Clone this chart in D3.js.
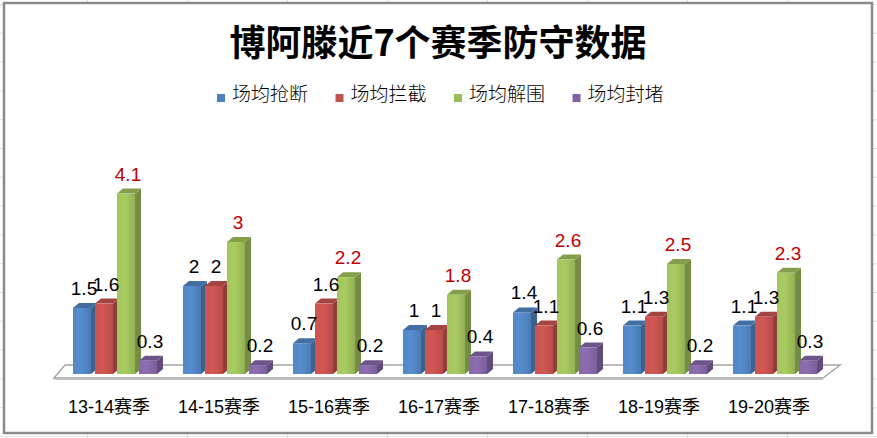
<!DOCTYPE html>
<html>
<head>
<meta charset="utf-8">
<script src="https://cdn.jsdelivr.net/npm/d3@7"></script>
<style>
body { margin: 0; background: #fff; }
text { font-family: "Liberation Sans", "Noto Sans CJK SC", sans-serif; }
</style>
</head>
<body>
<svg id="chart" width="877" height="438"></svg>
<script>
/* globals d3 */

// chart data
var title = "博阿滕近7个赛季防守数据";
var seasons = ["13-14赛季", "14-15赛季", "15-16赛季", "16-17赛季", "17-18赛季", "18-19赛季", "19-20赛季"];
var seriesNames = ["场均抢断", "场均拦截", "场均解围", "场均封堵"];
var steals = [1.5, 2, 0.7, 1, 1.4, 1.1, 1.1];
var interceptions = [1.6, 2, 1.6, 1, 1.1, 1.3, 1.3];
var clearances = [4.1, 3, 2.2, 1.8, 2.6, 2.5, 2.3];
var blocks = [0.3, 0.2, 0.2, 0.4, 0.6, 0.2, 0.3];

var seriesValues = [steals, interceptions, clearances, blocks];
var seriesColors = ["#4f81bd", "#c0504d", "#9bbb59", "#8064a2"];
var labelColors = ["#000", "#000", "#c00000", "#000"];

var svg = d3.select("#chart");
var W = 877, H = 438;

// faint spreadsheet cells behind the chart
var grid = svg.append("g").attr("stroke", "#e0e0e0").attr("stroke-width", 1);
grid.selectAll(".row")
    .data(d3.range(4.5, H, 28.8))
    .enter().append("line")
    .attr("x1", 0).attr("x2", W)
    .attr("y1", function(d){return d;}).attr("y2", function(d){return d;});
grid.selectAll(".col")
    .data(d3.range(87.5, W, 100))
    .enter().append("line")
    .attr("y1", 0).attr("y2", H)
    .attr("x1", function(d){return d;}).attr("x2", function(d){return d;});

// chart frame
svg.append("rect")
    .attr("x", 4).attr("y", 3)
    .attr("width", 868).attr("height", 430)
    .attr("fill", "#fff")
    .attr("stroke", "#8a8a8a")
    .attr("stroke-width", 2.5);

// title
svg.append("text")
    .attr("x", 438).attr("y", 56)
    .attr("text-anchor", "middle")
    .style("font-family", "'Noto Sans CJK SC', sans-serif")
    .style("font-size", "36px")
    .style("font-weight", "bold")
    .text(title);

// legend
var legendX = d3.scaleLinear().domain([0, 1]).range([217, 335.5]);
var legend = svg.append("g").selectAll("g")
    .data(seriesNames)
    .enter().append("g")
    .attr("transform", function(d, i){return "translate(" + legendX(i) + ",94)";});
legend.append("rect")
    .attr("width", 8).attr("height", 8)
    .attr("fill", function(d, i){return seriesColors[i];});
legend.append("text")
    .attr("x", 15).attr("y", 7)
    .style("font-size", "19px")
    .style("font-family", "'Noto Sans CJK SC', sans-serif")
    .style("font-weight", 300)
    .text(function(d){return d;});

// scales
var baseY = 374;
var x = d3.scaleBand().domain(seasons).range([60, 830]).paddingInner(0.236).paddingOuter(0.118);
var xs = d3.scaleBand().domain(d3.range(seriesNames.length)).range([0, x.bandwidth()]).paddingInner(0.18);
var y = d3.scaleLinear().domain([0, 5]).range([baseY, baseY - 220]);

// 3d depth for bars
var dx = 6, dy = 5;

// floor
var r = x.range();
var floorFront = 378, floorBack = 365;
var floor = svg.append("g");
floor.append("path")
    .attr("d", "M" + (r[0] - 6) + "," + floorFront +
               "L" + (r[0] + 5) + "," + floorBack +
               "L" + (r[1] + 10) + "," + floorBack +
               "L" + (r[1] - 7) + "," + floorFront + "Z")
    .attr("fill", "#fff")
    .attr("stroke", "#a6a6a6")
    .attr("stroke-width", 1.5);
floor.append("line")
    .attr("x1", r[0] - 6).attr("x2", r[1] - 7)
    .attr("y1", floorFront + 1).attr("y2", floorFront + 1)
    .attr("stroke", "#b5b5b5").attr("stroke-width", 1.5);

// gradients for front faces
var defs = svg.append("defs");
seriesColors.forEach(function(c, i) {
    var g = defs.append("linearGradient")
        .attr("id", "grad" + i)
        .attr("x1", "0").attr("x2", "1").attr("y1", "0").attr("y2", "0");
    g.append("stop").attr("offset", "0").attr("stop-color", d3.color(c).brighter(0.15));
    g.append("stop").attr("offset", "0.45").attr("stop-color", d3.color(c).brighter(0.25));
    g.append("stop").attr("offset", "1").attr("stop-color", d3.color(c).darker(0.15));
});

// bars
var bars = [];
seasons.forEach(function(s, si) {
    seriesValues.forEach(function(vals, k) {
        bars.push({season: s, series: k, value: vals[si]});
    });
});

var bw = xs.bandwidth();
var barG = svg.append("g").selectAll("g")
    .data(bars)
    .enter().append("g");

barG.append("path") // side face
    .attr("d", function(d) {
        var x0 = x(d.season) + xs(d.series) + bw, yt = y(d.value);
        return "M" + x0 + "," + baseY + "L" + x0 + "," + yt +
               "L" + (x0 + dx) + "," + (yt - dy) + "L" + (x0 + dx) + "," + (baseY - dy) + "Z";
    })
    .attr("fill", function(d){return d3.color(seriesColors[d.series]).darker(0.8);});

barG.append("path") // top face
    .attr("d", function(d) {
        var x0 = x(d.season) + xs(d.series), yt = y(d.value);
        return "M" + x0 + "," + yt + "L" + (x0 + dx) + "," + (yt - dy) +
               "L" + (x0 + bw + dx) + "," + (yt - dy) + "L" + (x0 + bw) + "," + yt + "Z";
    })
    .attr("fill", function(d){return d3.color(seriesColors[d.series]).darker(0.45);});

barG.append("rect") // front face
    .attr("x", function(d){return x(d.season) + xs(d.series);})
    .attr("y", function(d){return y(d.value);})
    .attr("width", bw)
    .attr("height", function(d){return baseY - y(d.value);})
    .attr("fill", function(d){return "url(#grad" + d.series + ")";});

// value labels
svg.append("g").selectAll("text")
    .data(bars)
    .enter().append("text")
    .attr("x", function(d){return x(d.season) + xs(d.series) + bw / 2 + 2;})
    .attr("y", function(d){return y(d.value) - 13;})
    .attr("text-anchor", "middle")
    .style("font-size", "19px")
    .attr("fill", function(d){return labelColors[d.series];})
    .text(function(d){return d.value;});

// category labels
svg.append("g").selectAll("text")
    .data(seasons)
    .enter().append("text")
    .attr("x", function(d){return x(d) + x.bandwidth() / 2 - 6;})
    .attr("y", 413)
    .attr("text-anchor", "middle")
    .style("font-size", "18px")
    .text(function(d){return d;});
</script>
</body>
</html>
